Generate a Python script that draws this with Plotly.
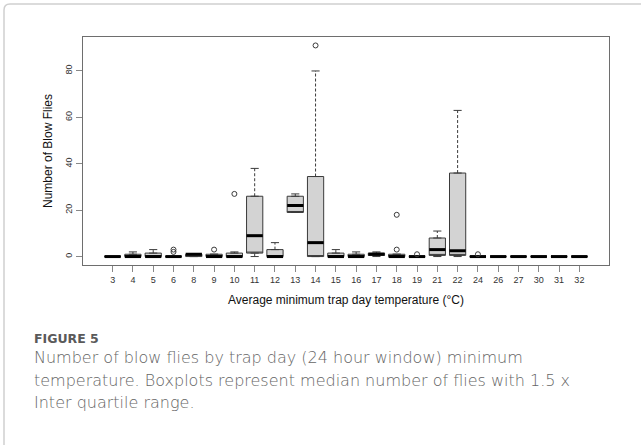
import plotly.graph_objects as go

# ---------------- data ----------------
categories = ["3", "4", "5", "6", "8", "9", "10", "11", "12", "13", "14", "15",
              "16", "17", "18", "19", "21", "22", "24", "26", "27", "30", "31", "32"]
whisker_low = [0, 0, 0, 0, 0, 0, 0, 0, 0, 19, 0, 0, 0, 0, 0, 0, 0, 0, 0, 0, 0, 0, 0, 0]
q1_vals     = [0, 0, 0, 0, 0, 0, 0, 1.5, 0, 19, 0, 0, 0, 0.5, 0, 0, 0.5, 0.5, 0, 0, 0, 0, 0, 0]
median_vals = [0, 0, 0, 0, 1, 0, 0, 9, 0, 22, 6, 0, 0, 1, 0, 0, 3, 2.5, 0, 0, 0, 0, 0, 0]
q3_vals     = [0, 1, 1.5, 0, 1, 1, 1.5, 26, 3, 26, 34.5, 1.5, 1, 1.5, 1, 0, 8, 36, 0, 0, 0, 0, 0, 0]
whisker_up  = [0, 2, 3, 0, 1, 1, 2, 38, 6, 27, 80, 3, 2, 2, 1, 0, 11, 63, 0, 0, 0, 0, 0, 0]

outlier_cats = ["6", "6", "9", "10", "14", "18", "18", "19", "24"]
outlier_vals = [2, 3, 3, 27, 91, 3, 18, 1, 1]

y_ticks = [0, 20, 40, 60, 80]

x_title = "Average minimum trap day temperature (°C)"
y_title = "Number of Blow Flies"
fig_label = "FIGURE 5"
caption_lines = [
    "Number of blow flies by trap day (24 hour window) minimum",
    "temperature. Boxplots represent median number of flies with 1.5 x",
    "Inter quartile range.",
]

# ---------------- layout geometry (pixels) ----------------
W, H = 641, 445
L, R, T, B = 83, 609, 37, 265
pw, ph = R - L, B - T

def px(x):
    return (x - L) / pw

def py(y):
    return (B - y) / ph

idx = list(range(len(categories)))
pos = {c: i for i, c in enumerate(categories)}
BOXW = 0.8
STAPLE = 0.2

fig = go.Figure()

# boxes
fig.add_trace(go.Box(
    x=idx, q1=q1_vals, median=q1_vals, q3=q3_vals,
    lowerfence=q1_vals, upperfence=q3_vals,
    width=BOXW, fillcolor="#d3d3d3",
    line=dict(color="#3a3a3a", width=1),
    boxpoints=False, showlegend=False, hoverinfo="skip",
))

# whiskers (dashed)
wx, wy = [], []
for i in idx:
    if whisker_up[i] > q3_vals[i]:
        wx += [i, i, None]
        wy += [q3_vals[i], whisker_up[i], None]
    if whisker_low[i] < q1_vals[i]:
        wx += [i, i, None]
        wy += [whisker_low[i], q1_vals[i], None]
fig.add_trace(go.Scatter(x=wx, y=wy, mode="lines",
                         line=dict(color="#3a3a3a", width=1, dash="3px,2px"),
                         showlegend=False, hoverinfo="skip"))

# staples
sx, sy = [], []
for i in idx:
    for v in (whisker_low[i], whisker_up[i]):
        sx += [i - STAPLE, i + STAPLE, None]
        sy += [v, v, None]
fig.add_trace(go.Scatter(x=sx, y=sy, mode="lines",
                         line=dict(color="#3a3a3a", width=1),
                         showlegend=False, hoverinfo="skip"))

# medians (thick)
mx, my = [], []
for i in idx:
    mx += [i - BOXW / 2, i + BOXW / 2, None]
    my += [median_vals[i], median_vals[i], None]
fig.add_trace(go.Scatter(x=mx, y=my, mode="lines",
                         line=dict(color="#000000", width=3),
                         showlegend=False, hoverinfo="skip"))

# outliers
fig.add_trace(go.Scatter(
    x=[pos[c] for c in outlier_cats], y=outlier_vals, mode="markers",
    marker=dict(symbol="circle-open", size=5, color="#3a3a3a", line=dict(width=1)),
    showlegend=False, hoverinfo="skip"))

n = len(categories)
fig.update_xaxes(
    range=[-0.5 - 0.04 * n, n - 0.5 + 0.04 * n],
    tickmode="array", tickvals=idx, ticktext=categories,
    ticks="outside", ticklen=6, tickcolor="#888888", tickwidth=1,
    showline=True, linecolor="#6e6e6e", linewidth=1, mirror=True,
    showgrid=False, zeroline=False,
    tickfont=dict(family="Liberation Sans, Arial", size=9, color="#333333"),
)
fig.update_yaxes(
    range=[-0.04 * 91, 91 * 1.04],
    tickmode="array", tickvals=y_ticks, ticktext=[str(v) for v in y_ticks],
    tickangle=-90,
    ticks="outside", ticklen=6, tickcolor="#888888", tickwidth=1,
    showline=True, linecolor="#6e6e6e", linewidth=1, mirror=True,
    showgrid=False, zeroline=False,
    tickfont=dict(family="Liberation Sans, Arial", size=9, color="#333333"),
)

annotations = [
    dict(text=x_title, x=0.5, y=py(300), xref="paper", yref="paper",
         xanchor="center", yanchor="middle", showarrow=False,
         font=dict(family="Liberation Sans, Arial", size=12, color="#111111")),
    dict(text=y_title, x=px(48), y=0.5, xref="paper", yref="paper",
         xanchor="center", yanchor="middle", showarrow=False, textangle=-90,
         font=dict(family="Liberation Sans, Arial", size=12, color="#111111")),
    dict(text="<b>" + fig_label + "</b>", x=px(32), y=py(338), xref="paper", yref="paper",
         xanchor="left", yanchor="middle", showarrow=False,
         font=dict(family="DejaVu Sans", size=12.5, color="#5a5a5a")),
]
for k, line in enumerate(caption_lines):
    annotations.append(dict(
        text=line, x=px(32), y=py(357.5 + 22.5 * k), xref="paper", yref="paper",
        xanchor="left", yanchor="middle", showarrow=False,
        font=dict(family="DejaVu Sans", size=16, color="#656565", weight=200)))

frame_path = (f"M {px(4)},{py(445)} L {px(4)},{py(10)} "
              f"Q {px(4)},{py(4)} {px(10)},{py(4)} L {px(641)},{py(4)}")

fig.update_layout(
    width=W, height=H,
    margin=dict(l=L, r=W - R, t=T, b=H - B, pad=0),
    paper_bgcolor="white", plot_bgcolor="white",
    annotations=annotations,
    shapes=[dict(type="path", path=frame_path, xref="paper", yref="paper",
                 line=dict(color="#cfcfcf", width=1.5), layer="above")],
    showlegend=False,
)

fig.write_html("out.html", config={"displayModeBar": False},
               post_script="document.body.style.margin='0';document.body.style.overflow='hidden';")
